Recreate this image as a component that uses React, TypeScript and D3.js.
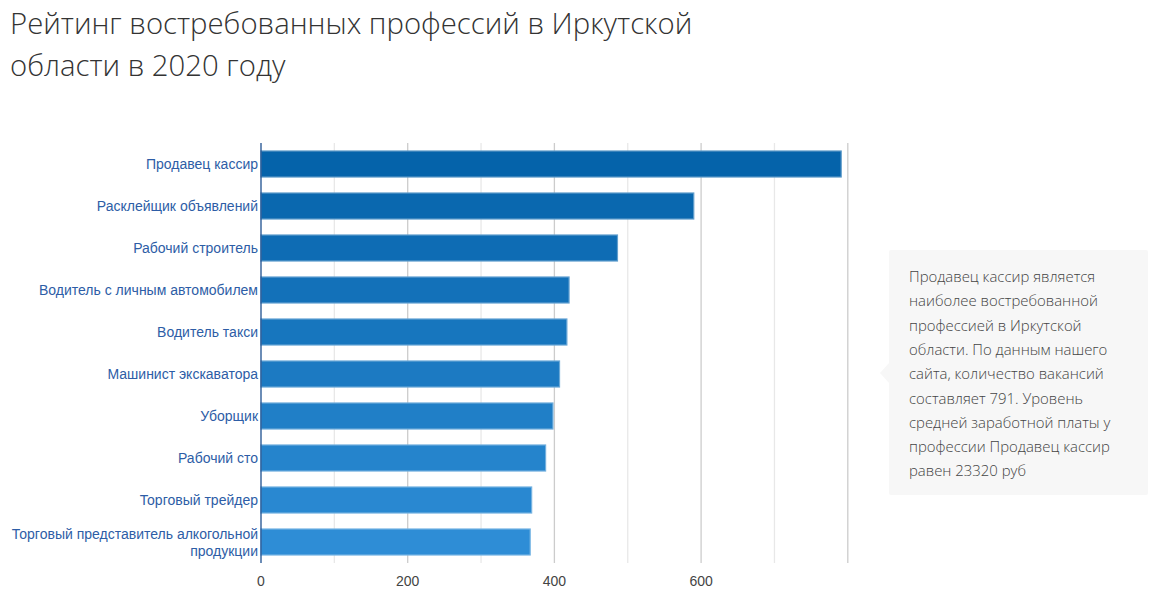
import React from "react";
import * as d3 from "d3";

const categories: string[][] = [
  ["Продавец кассир"],
  ["Расклейщик объявлений"],
  ["Рабочий строитель"],
  ["Водитель с личным автомобилем"],
  ["Водитель такси"],
  ["Машинист экскаватора"],
  ["Уборщик"],
  ["Рабочий сто"],
  ["Торговый трейдер"],
  ["Торговый представитель алкогольной", "продукции"],
];
const values = [791, 590, 486, 420, 417, 407, 398, 388, 369, 367];
const xTicks = [0, 200, 400, 600];
const gridValues = [100, 200, 300, 400, 500, 600, 700, 800];
const titleLines = ["Рейтинг востребованных профессий в Иркутской", "области в 2020 году"];
const noteLines = [
  "Продавец кассир является",
  "наиболее востребованной",
  "профессией в Иркутской",
  "области. По данным нашего",
  "сайта, количество вакансий",
  "составляет 791. Уровень",
  "средней заработной платы у",
  "профессии Продавец кассир",
  "равен 23320 руб",
];

export default function App() {
  const W = 1158, H = 593;
  const left = 261, top = 143, bottom = 563;
  const x = d3.scaleLinear().domain([0, 100]).range([left, left + 73.35]);
  const idx = d3.range(categories.length);
  const y = d3
    .scaleBand<number>()
    .domain(idx)
    .range([top, bottom])
    .paddingInner(0.38)
    .paddingOuter(0.19);
  const color = d3.scaleLinear<string>().domain([0, categories.length - 1]).range(["#0563aa", "#2e8dd6"]);
  return (
    <svg width={W} height={H} style={{ position: "absolute", left: 0, top: 0 }}>
      <rect width={W} height={H} fill="#fff" />
      {titleLines.map((t, i) => (
        <text key={i} x={10} y={34 + i * 42} fontFamily="'Open Sans', sans-serif" fontWeight={300} fontSize={29.3} fill="#333">
          {t}
        </text>
      ))}
      {gridValues.map((v) => (
        <line key={v} x1={x(v)} x2={x(v)} y1={top} y2={bottom} stroke={v % 200 === 0 ? "#cccccc" : "#e8e8e8"} strokeWidth={1.3} />
      ))}
      {values.map((v, i) => {
        const c = color(i);
        const s = d3.interpolateRgb(c, "#ffffff")(0.35);
        return (
          <rect key={i} x={x(0)} y={y(i)!} width={x(v) - x(0)} height={y.bandwidth()} fill={c} stroke={s} strokeWidth={1.2} />
        );
      })}
      <line x1={left} x2={left} y1={top} y2={bottom} stroke="#1c4f8f" strokeWidth={1.3} />
      {categories.map((lines, i) => {
        const cy = y(i)! + y.bandwidth() / 2;
        const lh = 17;
        const y0 = cy - ((lines.length - 1) * lh) / 2 + 5;
        return (
          <text key={i} x={258} textAnchor="end" fontFamily="'Liberation Sans', Arial, sans-serif" fontSize={14} fill="#2d5da6">
            {lines.map((l, j) => (
              <tspan key={j} x={258} y={y0 + j * lh}>
                {l}
              </tspan>
            ))}
          </text>
        );
      })}
      {xTicks.map((v) => (
        <text key={v} x={x(v)} y={586} textAnchor="middle" fontFamily="'Liberation Sans', Arial, sans-serif" fontSize={14} fill="#444">
          {v}
        </text>
      ))}
      <rect x={889} y={250} width={259} height={245} fill="#f7f7f7" rx={2} />
      <path d="M889,363 L880,373 L889,383 Z" fill="#f7f7f7" />
      {noteLines.map((l, i) => (
        <text key={i} x={909} y={282 + i * 24.3} fontFamily="'Open Sans', sans-serif" fontWeight={300} fontSize={14.9} fill="#444">
          {l}
        </text>
      ))}
    </svg>
  );
}
